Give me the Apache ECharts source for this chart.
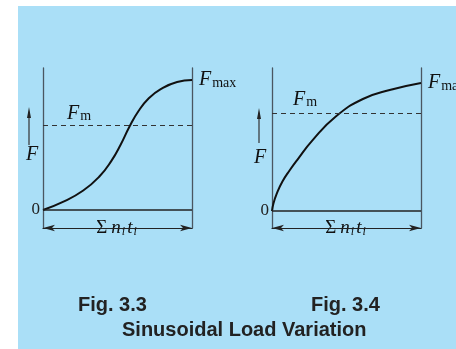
<!DOCTYPE html>
<html>
<head>
<meta charset="utf-8">
<script src="https://cdn.jsdelivr.net/npm/echarts@6/dist/echarts.min.js"></script>
<style>
  html, body { margin: 0; background: #fff; }
  #box { position: relative; width: 456px; height: 349px; overflow: hidden; }
  #paper { position: absolute; left: 18px; top: 6px; right: 0; bottom: 0; background: #aadff7; }
  #chart { position: absolute; left: 0; top: 0; width: 456px; height: 349px; }
</style>
</head>
<body>
<div id="box"><div id="paper"></div><div id="chart"></div></div>
<script>
// Fig. 3.3 - load rises along an S curve (time as % of total, F as % of Fmax)
const time33 = [0, 13, 27, 38, 46, 52, 58, 64, 71, 79, 90, 100]
const load33 = [0, 6, 15, 26, 38, 50, 64, 76, 86, 93, 98.5, 100]
const mean33 = 65
// Fig. 3.4 - load rises quickly then levels off
const time34 = [0, 1, 3, 7, 12, 17, 27, 43, 61, 79, 100]
const load34 = [0, 6, 13, 23, 32, 40, 55, 74, 87.5, 94.5, 100]
const mean34 = 76

const blue = '#aadff7'
const ink = '#111'
const serif = '"Liberation Serif", "DejaVu Serif", serif'

const mathRich = {
  F: { fontFamily: serif, fontStyle: 'italic', fontSize: 20, color: ink, verticalAlign: 'bottom' },
  s: { fontFamily: serif, fontSize: 14, color: ink, verticalAlign: 'bottom', padding: [0, 0, 0, 1] },
  g: { fontFamily: serif, fontSize: 19, color: ink, verticalAlign: 'bottom', padding: [0, 4, 0, 0] },
  v: { fontFamily: serif, fontStyle: 'italic', fontSize: 19, color: ink, verticalAlign: 'bottom' },
  i: { fontFamily: serif, fontStyle: 'italic', fontSize: 12, color: ink, verticalAlign: 'bottom', padding: [0, 2, 0, 1] }
}

// one panel = one grid, x axis at the bottom (the arrow), two y axes (left/right lines)
function panel(idx, left, yMin, yMax) {
  const grid = { left: left, top: 68, width: 149, height: 160 }
  const xAxis = {
    gridIndex: idx, type: 'value', min: 0, max: 100,
    axisLine: { onZero: false, symbol: ['arrow', 'arrow'], symbolSize: [5, 12], lineStyle: { color: '#222', width: 1.2 } },
    axisTick: { show: false }, axisLabel: { show: false }, splitLine: { show: false },
    name: '{g|Σ}{v|n}{i|i}{v|t}{i|i}',
    nameLocation: 'middle', nameGap: 0,
    nameTextStyle: { verticalAlign: 'middle', backgroundColor: blue, padding: [0, 3], rich: mathRich }
  }
  const yLeft = {
    gridIndex: idx, type: 'value', min: yMin, max: yMax, position: 'left',
    axisLine: { onZero: false, lineStyle: { color: '#4a5661', width: 1.3 } },
    axisTick: { show: false }, splitLine: { show: false },
    axisLabel: { customValues: [0], margin: 3, fontFamily: serif, fontSize: 17, color: '#222' }
  }
  const yRight = {
    gridIndex: idx, type: 'value', min: yMin, max: yMax, position: 'right',
    axisLine: { show: true, onZero: false, lineStyle: { color: '#4a5661', width: 1.3 } },
    axisTick: { show: false }, axisLabel: { show: false }, splitLine: { show: false }
  }
  return { grid, xAxis, yAxes: [yLeft, yRight] }
}

function curve(idx, times, loads, mean, fmDist) {
  return {
    type: 'line',
    xAxisIndex: idx, yAxisIndex: idx * 2,
    data: times.map((t, k) => [t, loads[k]]),
    smooth: 0.5,
    showSymbol: false, clip: false,
    lineStyle: { color: ink, width: 2 },
    endLabel: { show: true, distance: 7, formatter: '{F|F}{s|max}', rich: mathRich },
    markLine: {
      silent: true, symbol: 'none',
      data: [
        { yAxis: mean, lineStyle: { type: [5, 4], color: '#333', width: 1 },
          label: { show: true, position: 'insideStartTop', distance: fmDist, formatter: '{F|F}{s|m}', rich: mathRich } },
        { yAxis: 0, lineStyle: { type: 'solid', color: '#222', width: 1.5 }, label: { show: false } }
      ]
    }
  }
}

const p1 = panel(0, 43, -13.85, 109.23)
const p2 = panel(1, 272, -13.28, 111.72)

const capStyle = { fontFamily: '"Liberation Sans", Arial, sans-serif', fontWeight: 'bold', fontSize: 20, color: '#222' }

function upArrow(x, tip, end, fx, fy) {
  return [
    { type: 'line', shape: { x1: x, y1: tip + 8, x2: x, y2: end }, style: { stroke: '#333', lineWidth: 1.2 } },
    { type: 'polygon', shape: { points: [[x, tip], [x + 2, tip + 11], [x - 2, tip + 11]] }, style: { fill: '#222' } },
    { type: 'text', x: fx, y: fy, style: { text: 'F', font: 'italic 20px "Liberation Serif"', fill: ink, align: 'center', verticalAlign: 'middle' } }
  ]
}

const chart = echarts.init(document.getElementById('chart'))
chart.setOption({
  animation: false,
  grid: [p1.grid, p2.grid],
  xAxis: [p1.xAxis, p2.xAxis],
  yAxis: p1.yAxes.concat(p2.yAxes),
  series: [
    curve(0, time33, load33, mean33, [24, 2]),
    curve(1, time34, load34, mean34, [21, 4])
  ],
  title: [
    { text: 'Fig. 3.3', left: 78, top: 295, padding: 0, textStyle: capStyle },
    { text: 'Fig. 3.4', left: 311, top: 295, padding: 0, textStyle: capStyle },
    { text: 'Sinusoidal Load Variation', left: 122, top: 320, padding: 0, textStyle: capStyle }
  ],
  graphic: upArrow(29, 107, 145, 32, 155).concat(upArrow(259, 108, 143, 260, 158))
})
</script>
</body>
</html>
